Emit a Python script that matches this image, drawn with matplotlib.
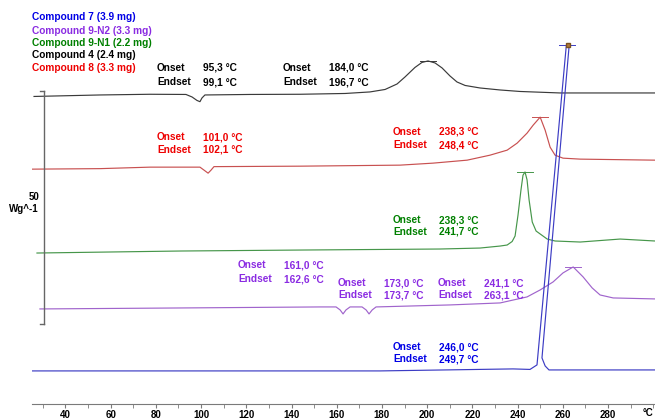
import matplotlib.pyplot as plt
from matplotlib.ticker import MultipleLocator

plt.rcParams['font.family'] = ['Liberation Sans', 'DejaVu Sans']
plt.rcParams['font.weight'] = 'bold'

# DSC curves: temperature (°C) and heat flow (W/g, relative to each curve's start)
black_T = [26.1, 55.3, 77.4, 93.3, 96.0, 98.2, 99.5, 100.4, 101.7, 121.6, 143.8, 163.7, 174.7, 181.4, 186.7,
           190.2, 194.6, 197.7, 200.4, 203.5, 206.6, 210.1, 213.2, 216.8, 223.4, 232.3, 241.1, 258.8, 300.8]
black_hf = [0, 0.32, 0.47, 0.43, -0.11, -0.86, -1.12, -0.32, 0.32, 0.43, 0.47, 0.64, 0.97, 1.5, 2.68,
            4.18, 6.22, 7.3, 7.62, 7.19, 6.12, 4.4, 3.11, 2.36, 1.82, 1.39, 1.07, 0.75, 0.75]

red_T = [25.2, 55.3, 77.4, 99.5, 101.3, 103.1, 104.4, 105.7, 143.8, 188.0, 202.6, 217.7, 227.8, 235.4,
         239.8, 244.2, 246.9, 250.0, 252.2, 254.4, 256.6, 260.1, 267.7, 300.8]
red_hf = [0, 0.11, 0.43, 0.43, -0.21, -0.86, -0.21, 0.54, 0.64, 0.86, 1.29, 1.93, 3.0, 4.08,
          5.58, 7.73, 9.44, 11.16, 8.37, 4.72, 3.0, 2.36, 2.15, 1.93]

green_T = [27.4, 90.7, 143.8, 205.7, 223.4, 232.3, 235.4, 237.6, 238.9, 240.2, 241.5, 242.4, 243.3,
           244.2, 245.1, 246.5, 248.2, 253.1, 256.6, 267.7, 285.4, 300.8]
green_hf = [0, 0.43, 0.64, 0.86, 1.07, 1.5, 1.72, 2.47, 3.65, 8.15, 13.5, 16.7, 17.4,
            15.7, 11.4, 6.65, 4.72, 3.0, 2.58, 2.36, 3.0, 2.58]

purple_T = [28.7, 90.7, 152.6, 159.7, 161.5, 162.8, 164.1, 165.9, 171.2, 173.0, 174.3, 175.7, 177.4,
            210.1, 232.3, 244.2, 250.0, 255.7, 260.1, 264.6, 269.0, 273.0, 276.5, 282.3, 300.8]
purple_hf = [0, 0.21, 0.43, 0.43, -0.21, -1.07, -0.21, 0.43, 0.43, -0.21, -1.07, -0.21, 0.43,
             0.86, 1.29, 2.58, 4.08, 5.79, 7.73, 9.01, 6.87, 4.51, 3.0, 2.36, 2.15]

blue_T = [25.2, 179.2, 238.0, 245.5, 248.6, 261.5, 261.9, 262.8, 250.8, 252.2, 253.9, 300.8]
blue_hf = [0, 0, 0.43, 0.32, 1.29, 69.5, 70.0, 69.7, 2.79, 1.07, 0.21, 0.21]

samples = ["Compound 7 (3.9 mg)", "Compound 9-N2 (3.3 mg)", "Compound 9-N1 (2.2 mg)",
           "Compound 4 (2.4 mg)", "Compound 8 (3.3 mg)"]
text_colors = ["#0000e6", "#8a2be2", "#008000", "#000000", "#ee0000"]

# onset / endset results (°C)
results = [
    ("#000000", 95.3, 99.1), ("#000000", 184.0, 196.7),
    ("#ee0000", 101.0, 102.1), ("#ee0000", 238.3, 248.4),
    ("#008000", 238.3, 241.7),
    ("#8a2be2", 161.0, 162.6), ("#8a2be2", 173.0, 173.7), ("#8a2be2", 241.1, 263.1),
    ("#0000e6", 246.0, 249.7),
]
# where each result block sits (pixels: left x, y of Onset row, y of Endset row)
result_pos = [(157, 68, 82), (283, 68, 82), (157, 137, 150), (393, 132, 145), (393, 220, 232),
              (238, 265, 279), (338, 283, 295), (438, 283, 295), (393, 347, 359)]

W, H = 655, 419
fig = plt.figure(figsize=(W / 100, H / 100), dpi=100)
ax = fig.add_axes([32 / W, 15 / H, 623 / W, 404 / H])

curves = [
    (black_T, black_hf, 66.0, "#3a3a3a"),
    (red_T, red_hf, 50.4, "#c85050"),
    (green_T, green_hf, 32.4, "#46964a"),
    (purple_T, purple_hf, 20.4, "#a064cc"),
    (blue_T, blue_hf, 7.1, "#3c3cc4"),
]
for T, hf, off, c in curves:
    y = [v + off for v in hf]
    ax.plot(T, y, color=c, lw=0.85)
    # short horizontal mark at the peak top
    k = y.index(max(y))
    ax.plot([T[k] - 3.5, T[k] + 3.5], [y[k], y[k]], color=c, lw=0.7)

# small marker at top of the Compound 7 trace
k = blue_hf.index(max(blue_hf))
ax.plot(blue_T[k] + 0.6, blue_hf[k] + 7.1, marker="s", ms=2.5, color="#b07a3a", mec="#7a5020")

ax.set_xlim(25.2, 300.8)
ax.set_ylim(0, 86.7)
for s in ["top", "right", "left"]:
    ax.spines[s].set_visible(False)
ax.spines["bottom"].set_color("#7a7a7a")
ax.set_yticks([])
ax.set_xticks(range(40, 281, 20))
ax.xaxis.set_minor_locator(MultipleLocator(10))
ax.tick_params(axis="x", which="both", direction="out", length=3, color="#7a7a7a",
               labelsize=7, pad=1.5)

# scale bar 50 W/g
ax.plot([30.5, 30.5], [17.2, 67.2], color="#666666", lw=1, clip_on=False)
ax.plot([28.9, 30.5], [17.2, 17.2], color="#666666", lw=1, clip_on=False)
ax.plot([28.9, 30.5], [67.2, 67.2], color="#666666", lw=1, clip_on=False)
fig.text(39 / W, 1 - 197 / H, "50", ha="right", va="center", fontsize=7)
fig.text(39 / W, 1 - 209 / H, "Wg^-1", ha="right", va="center", fontsize=7)
fig.text(648 / W, 1 - 413 / H, "°C", ha="center", va="center", fontsize=7)

# legend
for i, (name, c) in enumerate(zip(samples, text_colors)):
    fig.text(32 / W, 1 - [16.7, 30.5, 42.7, 54.5, 67.7][i] / H, name, color=c,
             ha="left", va="center", fontsize=7.3)

for (c, on, end), (x, y1, y2) in zip(results, result_pos):
    fig.text(x / W, 1 - y1 / H, "Onset", color=c, ha="left", va="center", fontsize=7.3)
    fig.text(x / W, 1 - y2 / H, "Endset", color=c, ha="left", va="center", fontsize=7.3)
    fig.text((x + 46) / W, 1 - y1 / H, f"{on:.1f} °C".replace(".", ","), color=c,
             ha="left", va="center", fontsize=7.3)
    fig.text((x + 46) / W, 1 - y2 / H, f"{end:.1f} °C".replace(".", ","), color=c,
             ha="left", va="center", fontsize=7.3)

fig.savefig("out.png", dpi=100)
